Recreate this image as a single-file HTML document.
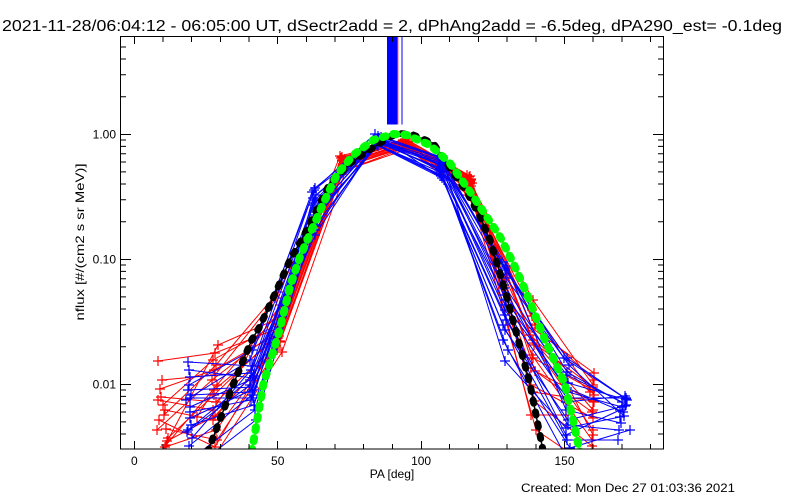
<!DOCTYPE html>
<html>
<head>
<meta charset="utf-8">
<style>
html,body{margin:0;padding:0;background:#fff;}
svg{display:block;}
text{font-family:"Liberation Sans",sans-serif;fill:#000;}
</style>
</head>
<body>
<svg width="800" height="500" viewBox="0 0 800 500" xmlns="http://www.w3.org/2000/svg">
<defs>
<clipPath id="pc"><rect x="120" y="36" width="544" height="413"/></clipPath>
<marker id="mr" markerWidth="12" markerHeight="12" refX="6" refY="6" markerUnits="userSpaceOnUse" overflow="visible"><path d="M1 6h10M6 1v10" stroke="#ff0000" stroke-width="1.2" fill="none"/></marker>
<marker id="mb" markerWidth="12" markerHeight="12" refX="6" refY="6" markerUnits="userSpaceOnUse" overflow="visible"><path d="M1 6h10M6 1v10" stroke="#0000ff" stroke-width="1.2" fill="none"/></marker>
</defs>
<rect width="800" height="500" fill="#fff"/>

<!-- title -->
<text x="2" y="31" font-size="15.5" textLength="780" lengthAdjust="spacingAndGlyphs">2021-11-28/06:04:12 - 06:05:00 UT, dSectr2add = 2, dPhAng2add = -6.5deg, dPA290_est= -0.1deg</text>

<!-- data -->
<g clip-path="url(#pc)" fill="none">
<g stroke="#ff0000" stroke-width="1" marker-start="url(#mr)" marker-mid="url(#mr)" marker-end="url(#mr)">
<polyline points="158,361 215,353 279,328 342,157 405,139 469,177 532,328 594,373"/>
<polyline points="160,389 214,370 277,334 344,161 407,141 470,181 534,343 593,387"/>
<polyline points="161,397 216,402 280,341 343,165 406,144 468,185 533,358 593,390"/>
<polyline points="165,410 213,420 276,346 345,159 404,141 471,179 535,371 594,402"/>
<polyline points="159,420 215,447 278,338 342,168 406,146 470,189 531,385 593,418"/>
<polyline points="157,430 212,380 281,327 344,163 408,142 469,191 532,316 593,435"/>
<polyline points="166,429 217,440 277,350 343,171 405,148 472,183 534,401 592,446"/>
<polyline points="168,438 214,395 279,332 341,158 406,139 470,176 531,415 566,415"/>
<polyline points="165,447 216,430 280,342 344,166 407,145 468,195 533,340 593,410"/>
<polyline points="163,405 213,360 278,324 342,161 405,142 471,186 535,325 594,380"/>
<polyline points="167,441 215,416 276,348 345,167 406,147 469,193 532,355 592,440"/>
<polyline points="197,417 214,390 279,336 343,164 404,144 470,184 533,392 593,401"/>
<polyline points="170,470 212,460 282,352 346,170 408,149 472,198 536,430 595,470"/>
<polyline points="160,455 218,345 275,320 340,156 403,140 467,175 530,335 590,392"/>
<polyline points="162,380 215,375 276,298 342,160 405,141 470,182 533,300 593,385"/>
<polyline points="164,415 216,365 278,292 344,163 406,143 469,187 532,310 594,395"/>
<polyline points="158,400 213,410 280,305 343,166 407,145 471,180 534,345 593,430"/>
<polyline points="166,445 217,385 277,315 345,159 404,140 468,190 531,368 592,412"/>
</g>
<g stroke="#0000ff" stroke-width="1" marker-start="url(#mb)" marker-mid="url(#mb)" marker-end="url(#mb)">
<polyline points="188,362 252,366 314,190 378,140 441,160 505,270 567,358 625,398"/>
<polyline points="190,377 251,373 316,195 377,142 442,165 504,285 568,383 627,400"/>
<polyline points="188,390 253,387 315,200 379,138 440,158 506,300 568,392 622,407"/>
<polyline points="190,398 253,398 313,205 378,143 441,168 505,310 567,398 626,398"/>
<polyline points="190,407 250,380 317,210 376,141 443,162 505,361 566,428 620,417"/>
<polyline points="190,418 252,390 315,215 378,145 440,172 503,325 567,440 618,440"/>
<polyline points="191,425 254,405 314,220 380,139 442,166 507,266 566,410 621,423"/>
<polyline points="192,438 251,370 316,225 377,144 441,175 505,330 568,420 625,406"/>
<polyline points="189,446 252,395 315,230 378,140 439,170 504,295 567,375 622,402"/>
<polyline points="190,460 255,410 313,198 379,142 441,163 506,278 569,365 624,416"/>
<polyline points="187,432 250,385 316,212 378,146 442,178 505,315 566,435 620,410"/>
<polyline points="189,370 253,378 315,235 377,141 440,169 503,340 565,455 617,460"/>
<polyline points="191,470 256,420 318,208 381,137 444,180 508,350 570,448 630,430"/>
<polyline points="186,400 250,360 312,192 375,134 438,156 502,262 564,358 626,399"/>
<polyline points="189,385 252,350 315,188 378,136 441,158 505,268 567,372 626,405"/>
<polyline points="190,412 251,400 316,218 378,142 442,170 505,305 567,388 623,412"/>
<polyline points="188,430 254,376 314,203 379,140 440,164 504,288 566,402 625,396"/>
<polyline points="191,395 250,392 315,226 377,145 441,176 506,320 568,425 619,430"/>
</g>

<!-- black model curve -->
<polyline stroke="#000" stroke-width="1.5" stroke-linejoin="round" points="207.7,452 233.3,384.3 251.7,340 259,328 276.7,290 290,260 303.3,236.7 316.7,210 330,183.3 350,163.3 366.7,151.7 390,136.7 400,133.5 413.3,135 433.3,143.3 453.3,173.3 466.7,191.7 480,216.7 490,240 500,273.3 506.7,296.7 515,328.3 518.3,340 530,384.3 543.3,452"/>
<polyline stroke="#000" stroke-width="7" stroke-linecap="round" stroke-linejoin="round" stroke-dasharray="3 9" points="207.7,452 233.3,384.3 251.7,340 259,328 276.7,290 290,260 303.3,236.7 316.7,210 330,183.3 350,163.3 366.7,151.7 390,136.7 400,133.5 413.3,135 433.3,143.3 453.3,173.3 466.7,191.7 480,216.7 490,240 500,273.3 506.7,296.7 515,328.3 518.3,340 530,384.3 543.3,452"/>

<!-- green model curve -->
<polyline stroke="#00ff00" stroke-width="8" stroke-linecap="round" stroke-linejoin="round" stroke-dasharray="3 8" points="251.7,452 263.3,384.3 276.7,340 280,328.3 290,286.7 300,256.7 311.7,230 323.3,203.3 336.7,175 353.3,155 373.3,140 393.3,134 406.7,135 430,145 450,163.3 470,191.7 486.7,216.7 500,236.7 513.3,263.3 526.7,293.3 538.3,323.3 545,340 565,384.3 580,452"/>
</g>

<!-- bar at top -->
<rect x="387" y="36" width="10.3" height="88.5" fill="#0000ff"/>
<line x1="397.8" y1="36" x2="397.8" y2="124.5" stroke="#ff0000" stroke-width="1"/>
<line x1="402" y1="36" x2="402" y2="124.5" stroke="#0000ff" stroke-width="1"/>

<!-- axes box -->
<rect x="120.5" y="36.5" width="543" height="412.5" fill="none" stroke="#000" stroke-width="1"/>

<!-- ticks -->
<g stroke="#000" stroke-width="1" fill="none">
<path d="M120 134.5h11M120 259.5h11M120 384.5h11M664 134.5h-11M664 259.5h-11M664 384.5h-11"/>
<path d="M120 47h6M120 59h6M120 74.7h6M120 96.7h6M120 140h6M120 146.4h6M120 153.7h6M120 162h6M120 171.9h6M120 184h6M120 199.7h6M120 221.7h6M120 265h6M120 271.4h6M120 278.7h6M120 287h6M120 296.9h6M120 309h6M120 324.7h6M120 346.7h6M120 390h6M120 396.4h6M120 403.7h6M120 412h6M120 421.9h6M120 434h6"/>
<path d="M664 47h-6M664 59h-6M664 74.7h-6M664 96.7h-6M664 140h-6M664 146.4h-6M664 153.7h-6M664 162h-6M664 171.9h-6M664 184h-6M664 199.7h-6M664 221.7h-6M664 265h-6M664 271.4h-6M664 278.7h-6M664 287h-6M664 296.9h-6M664 309h-6M664 324.7h-6M664 346.7h-6M664 390h-6M664 396.4h-6M664 403.7h-6M664 412h-6M664 421.9h-6M664 434h-6"/>
<path d="M134.5 449v-8M277.5 449v-8M421.5 449v-8M564.5 449v-8M134.5 36v8M277.5 36v8M421.5 36v8M564.5 36v8"/>
<path d="M163 449v-5M191.5 449v-5M220.5 449v-5M249 449v-5M306.5 449v-5M335 449v-5M363.5 449v-5M392.5 449v-5M449.5 449v-5M478.5 449v-5M507 449v-5M536 449v-5M593 449v-5M622 449v-5M650.5 449v-5"/>
<path d="M163 36v6M191.5 36v6M220.5 36v6M249 36v6M306.5 36v6M335 36v6M363.5 36v6M392.5 36v6M449.5 36v6M478.5 36v6M507 36v6M536 36v6M593 36v6M622 36v6M650.5 36v6"/>
</g>

<!-- labels -->
<g font-size="12">
<text x="116" y="138.5" text-anchor="end">1.00</text>
<text x="116" y="263.5" text-anchor="end">0.10</text>
<text x="116" y="388.5" text-anchor="end">0.01</text>
<text x="134.3" y="465" text-anchor="middle">0</text>
<text x="277.7" y="465" text-anchor="middle">50</text>
<text x="421.1" y="465" text-anchor="middle">100</text>
<text x="564.5" y="465" text-anchor="middle">150</text>
<text x="392" y="478" text-anchor="middle">PA [deg]</text>
<text transform="translate(84,242) rotate(-90)" text-anchor="middle" textLength="157" lengthAdjust="spacingAndGlyphs">nflux [#/(cm2 s sr MeV)]</text>
<text x="521" y="492" textLength="214" lengthAdjust="spacingAndGlyphs">Created: Mon Dec 27 01:03:36 2021</text>
</g>
</svg>
</body>
</html>
